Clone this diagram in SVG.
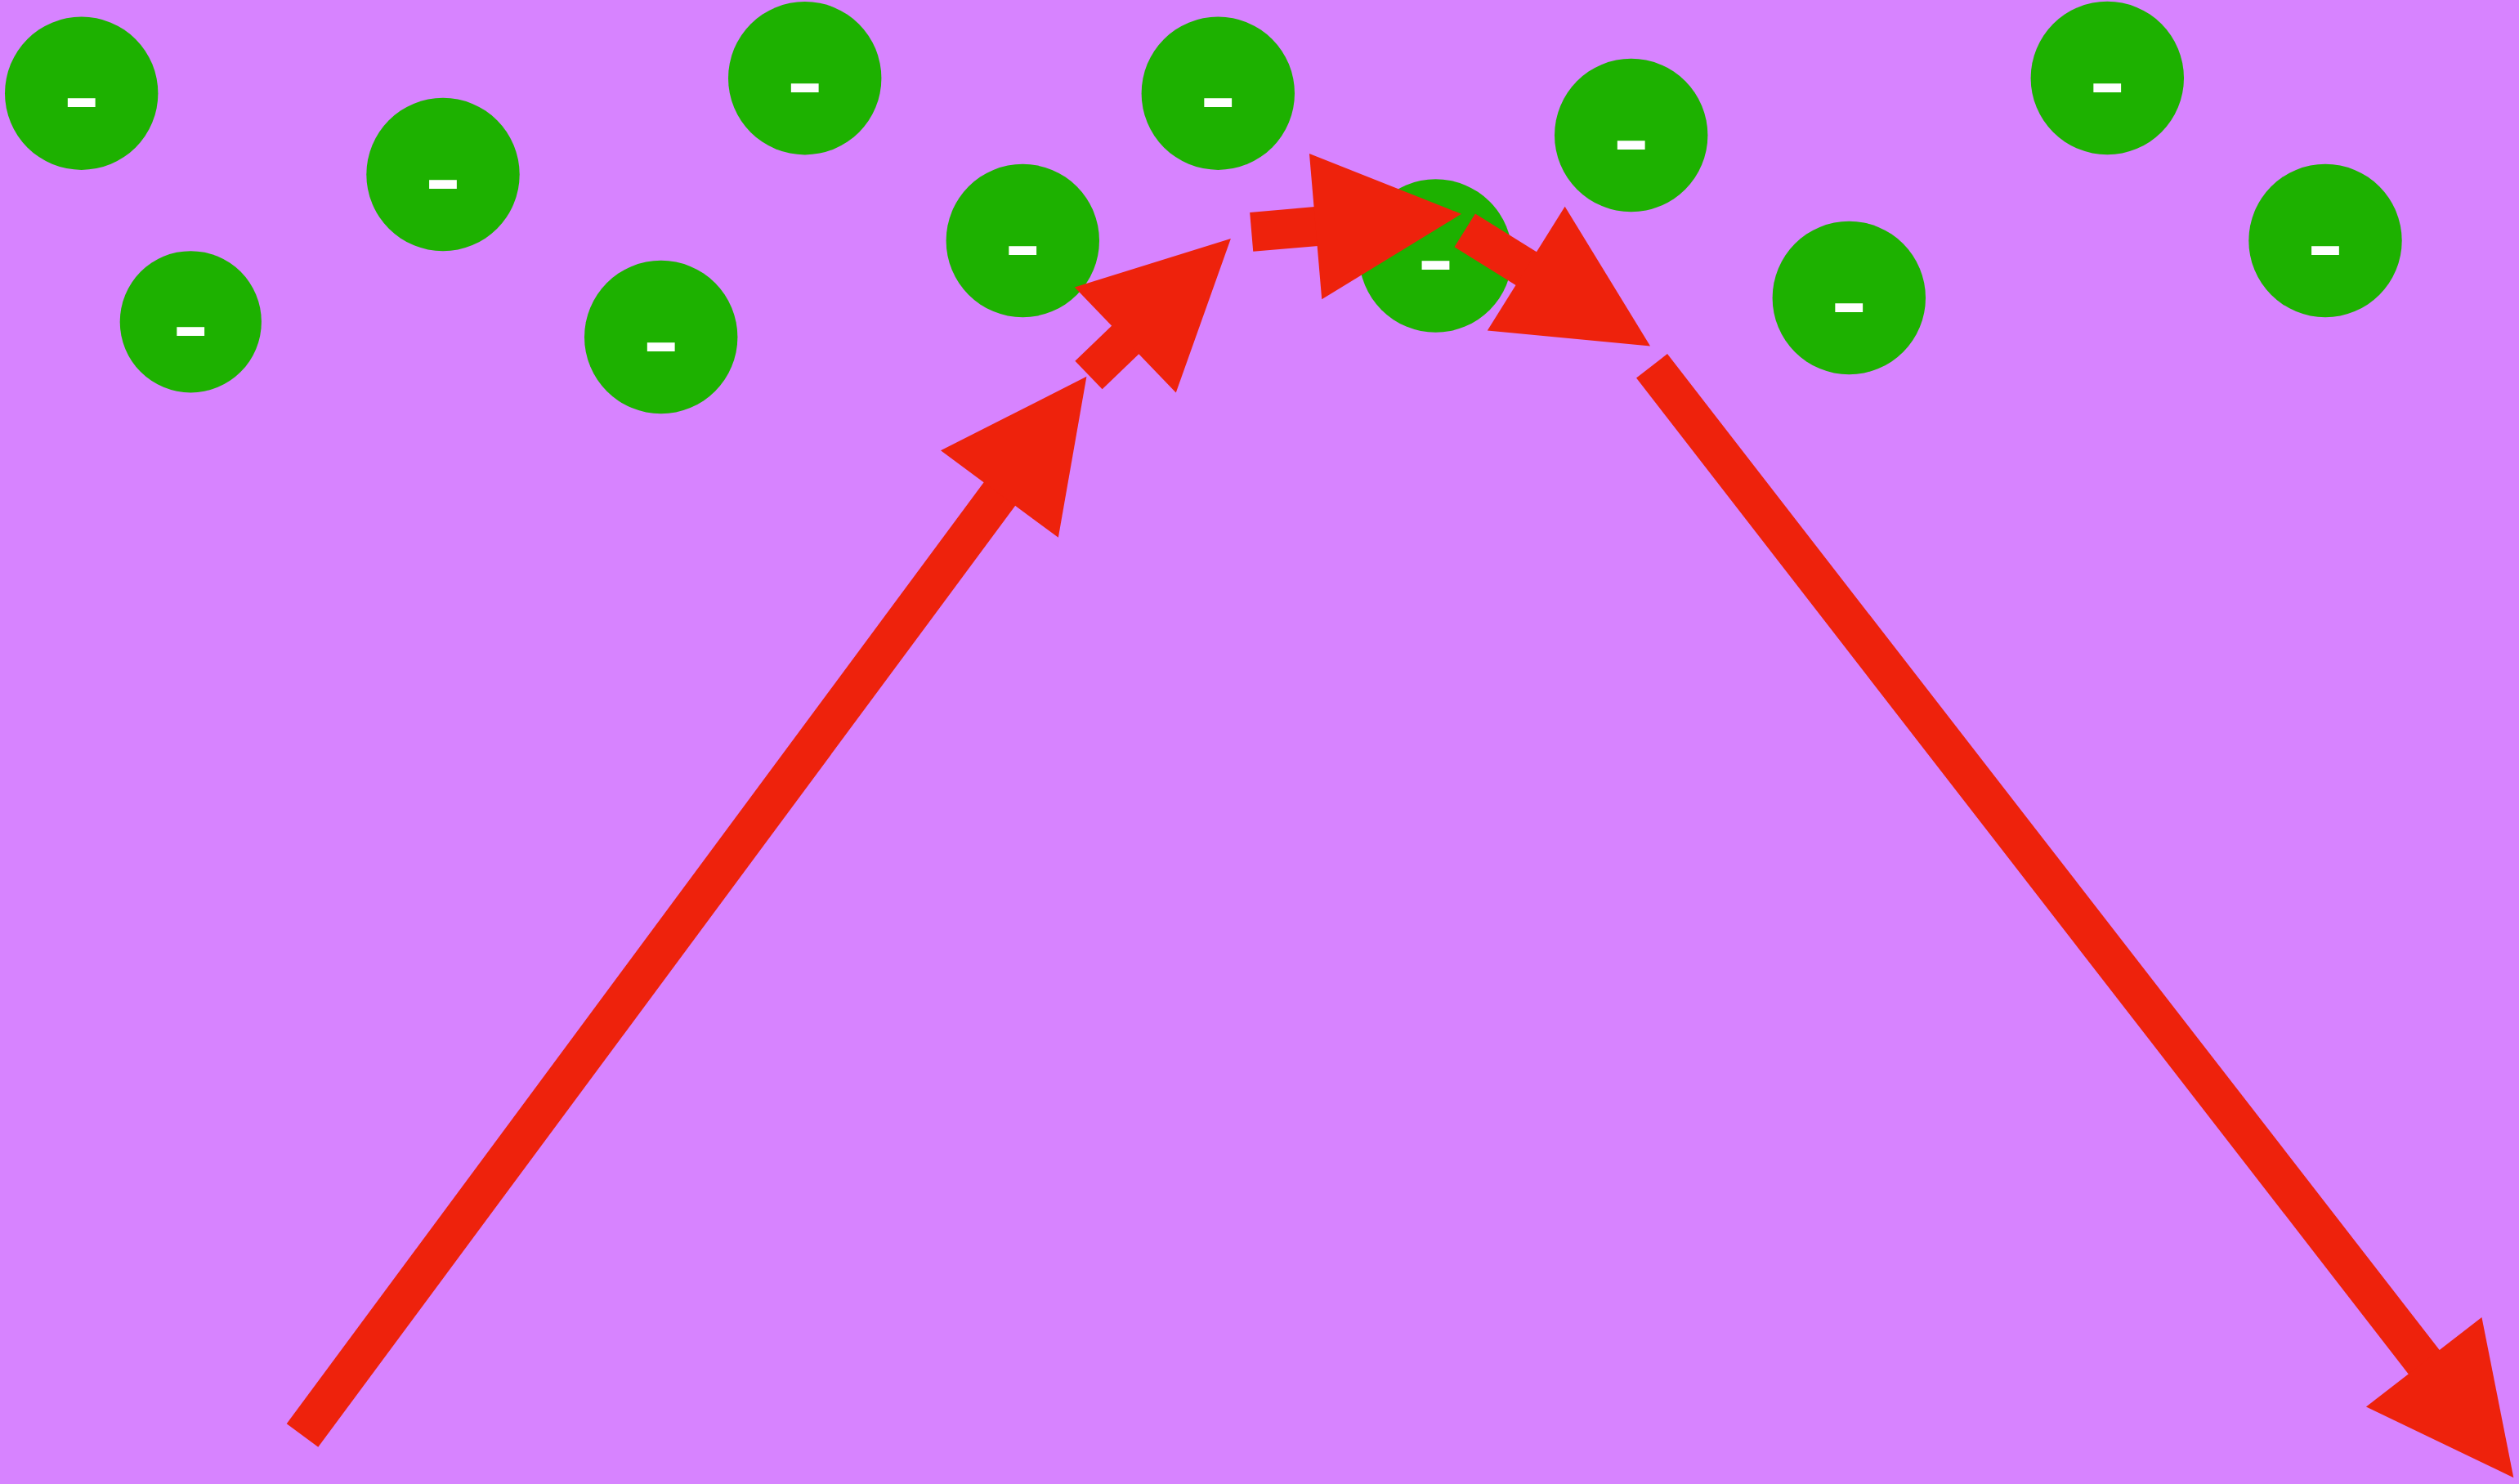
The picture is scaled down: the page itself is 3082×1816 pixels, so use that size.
<svg xmlns="http://www.w3.org/2000/svg" width="3082" height="1816" viewBox="0 0 3082 1816">
  <style>
    .node { fill: #1DB100; }
    .label { fill: #FFFFFF; font-family: "Liberation Sans", Arial, sans-serif; font-size: 138px; text-anchor: middle; }
    .edge { stroke: #EE220C; stroke-width: 48; fill: none; stroke-linecap: butt; marker-end: url(#head); }
  </style>
  <defs>
    <marker id="head" markerUnits="userSpaceOnUse" markerWidth="182" markerHeight="182" refX="1" refY="89.5" orient="auto" overflow="visible">
      <path d="M0,0 L179,89.5 L0,179 Z" fill="#EE220C"/>
    </marker>
  </defs>
  <rect x="0" y="0" width="3082" height="1816" fill="#D783FF"/>
  <g id="nodes">
    <g id="n1"><circle class="node" cx="99.7" cy="114.2" r="93.7"/><text class="label" x="99.7" y="162.2">-</text></g>
    <g id="n2"><circle class="node" cx="233.3" cy="393.8" r="86.6"/><text class="label" x="233.3" y="441.8">-</text></g>
    <g id="n3"><circle class="node" cx="542" cy="213.5" r="93.7"/><text class="label" x="542" y="261.5">-</text></g>
    <g id="n4"><circle class="node" cx="984.7" cy="95.7" r="93.7"/><text class="label" x="984.7" y="143.7">-</text></g>
    <g id="n5"><circle class="node" cx="808.7" cy="412.5" r="93.7"/><text class="label" x="808.7" y="460.5">-</text></g>
    <g id="n6"><circle class="node" cx="1251.3" cy="294.5" r="93.7"/><text class="label" x="1251.3" y="342.5">-</text></g>
    <g id="n7"><circle class="node" cx="1490.3" cy="114.2" r="93.7"/><text class="label" x="1490.3" y="162.2">-</text></g>
    <g id="n8"><circle class="node" cx="1756.5" cy="313" r="93.7"/><text class="label" x="1756.5" y="361">-</text></g>
    <g id="n9"><circle class="node" cx="1995.7" cy="165.5" r="93.7"/><text class="label" x="1995.7" y="213.5">-</text></g>
    <g id="n10"><circle class="node" cx="2262.3" cy="364.5" r="93.7"/><text class="label" x="2262.3" y="412.5">-</text></g>
    <g id="n11"><circle class="node" cx="2578.3" cy="95.5" r="93.7"/><text class="label" x="2578.3" y="143.5">-</text></g>
    <g id="n12"><circle class="node" cx="2845" cy="294.5" r="93.7"/><text class="label" x="2845" y="342.5">-</text></g>
  </g>
  <g id="connectors">
    <line class="edge" x1="370" y1="1756.5" x2="1223.5" y2="603.8"/>
    <line class="edge" x1="1332" y1="459" x2="1377.5" y2="415.3"/>
    <line class="edge" x1="1531.2" y1="283.8" x2="1610.6" y2="277"/>
    <line class="edge" x1="1792.2" y1="281.8" x2="1868.1" y2="329.2"/>
    <line class="edge" x1="2021" y1="447.8" x2="2966.3" y2="1667.5"/>
  </g>
</svg>
